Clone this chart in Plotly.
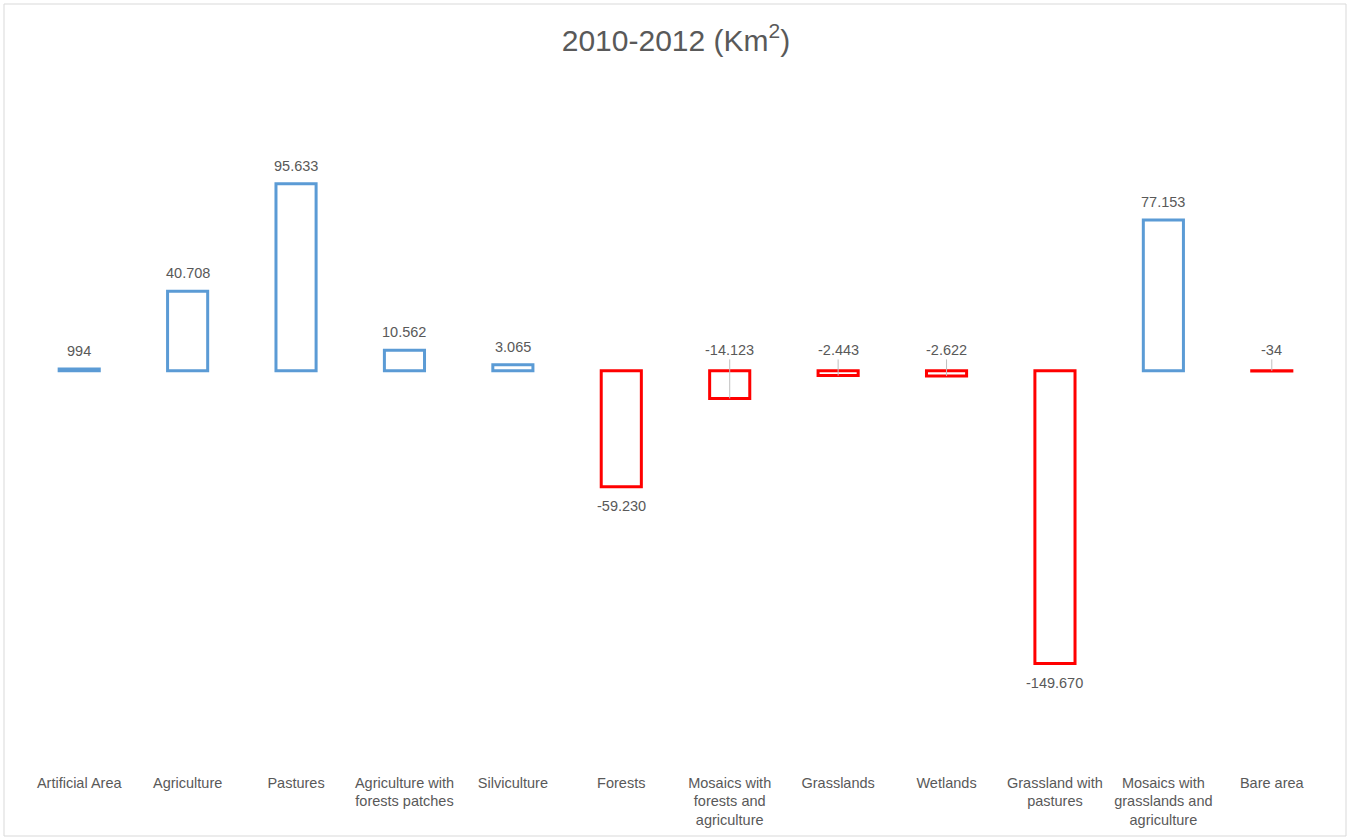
import plotly.graph_objects as go

categories = ["Artificial Area", "Agriculture", "Pastures", "Agriculture with<br>forests patches",
              "Silviculture", "Forests", "Mosaics with<br>forests and<br>agriculture", "Grasslands",
              "Wetlands", "Grassland with<br>pastures", "Mosaics with<br>grasslands and<br>agriculture",
              "Bare area"]
values = [994, 40708, 95633, 10562, 3065, -59230, -14123, -2443, -2622, -149670, 77153, -34]
value_labels = ["994", "40.708", "95.633", "10.562", "3.065", "-59.230", "-14.123", "-2.443",
                "-2.622", "-149.670", "77.153", "-34"]

BLUE = "#5B9BD5"
RED = "#FF0000"
GREY = "#595959"
FONT = "Liberation Sans"

W, H = 1352, 839
ML, MR, MT, MB = 25, 26, 97, 77

line_colors = [BLUE if v >= 0 else RED for v in values]

fig = go.Figure()
fig.add_trace(go.Bar(
    x=categories, y=values,
    marker=dict(color="white", line=dict(color=line_colors, width=3)),
    width=0.37,
    hoverinfo="x+y",
))

annotations = []
for c, v, t in zip(categories, values, value_labels):
    if v >= 0:
        annotations.append(dict(x=c, y=v, text=t, showarrow=False, yshift=18,
                                font=dict(family=FONT, size=14.5, color=GREY)))
    elif v < -20000:
        annotations.append(dict(x=c, y=v, text=t, showarrow=False, yshift=-19,
                                font=dict(family=FONT, size=14.5, color=GREY)))
    else:
        annotations.append(dict(x=c, y=v, text=t, showarrow=True, arrowhead=0,
                                arrowwidth=1, arrowcolor="#BFBFBF",
                                axref="x", ayref="y", ax=c, ay=10700,
                                font=dict(family=FONT, size=14.5, color=GREY)))

pw = W - ML - MR
ph = H - MT - MB
fig.add_shape(type="rect", xref="paper", yref="paper",
              x0=-(ML - 4) / pw, x1=1 + (MR - 6) / pw,
              y0=-(MB - 3) / ph, y1=1 + (MT - 4) / ph,
              line=dict(color="#D9D9D9", width=1), fillcolor="rgba(0,0,0,0)", layer="below")

fig.update_layout(
    width=W, height=H,
    margin=dict(l=ML, r=MR, t=MT, b=MB),
    paper_bgcolor="white", plot_bgcolor="white",
    showlegend=False,
    title=dict(text="2010-2012 (Km<sup>2</sup>)", x=0.5, xanchor="center",
               y=1 - 40 / H, yanchor="middle", yref="container",
               font=dict(family=FONT, size=30, color=GREY)),
    xaxis=dict(showgrid=False, showline=False, zeroline=False, ticks="",
               tickfont=dict(family=FONT, size=14.5, color=GREY), tickangle=0,
               ticklabelstandoff=10),
    yaxis=dict(range=[-200000, 140000], showgrid=False, showline=False, zeroline=False,
               showticklabels=False, ticks=""),
    annotations=annotations,
)

fig.write_html("out.html", config={"displayModeBar": False},
               post_script="document.body.style.margin='0';document.body.style.overflow='hidden';")
